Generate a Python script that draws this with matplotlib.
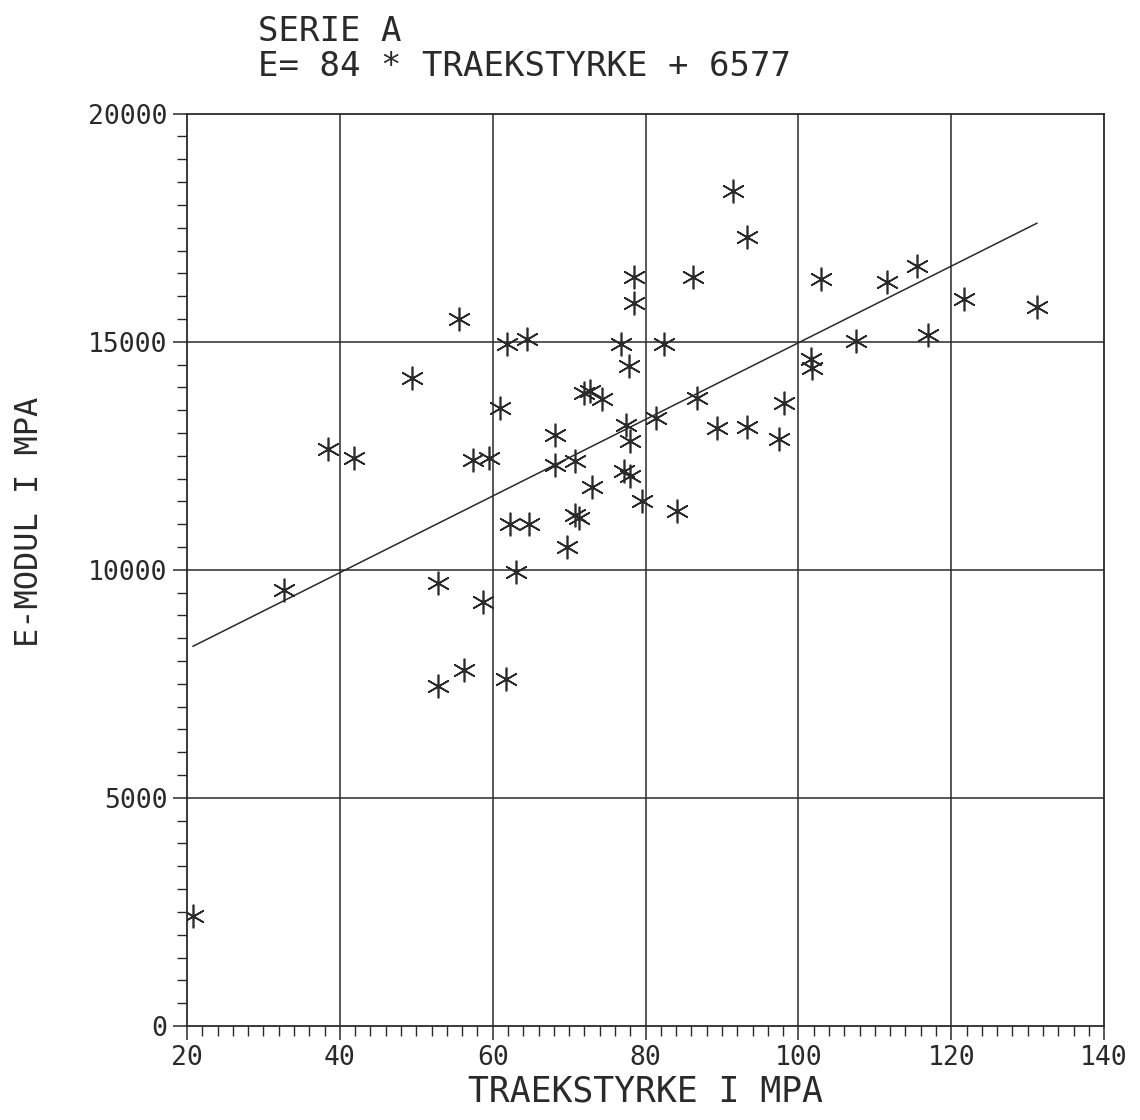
import numpy as np
import matplotlib
matplotlib.use('Agg')
import matplotlib.pyplot as plt
from matplotlib.ticker import MultipleLocator

# traekstyrke (MPa) and E-modul (MPa)
traek = [20.8, 32.7, 38.5, 41.9, 49.5, 52.8, 52.8, 55.6, 56.2, 57.4,
         58.8, 59.5, 61.0, 61.8, 61.9, 62.3, 63.1, 64.5, 64.8, 68.2,
         68.2, 69.7, 70.8, 70.8, 71.3, 71.9, 72.7, 73.0, 74.3, 76.8,
         77.2, 77.4, 77.8, 78.0, 78.0, 78.45, 78.55, 79.6, 81.4, 82.4,
         84.1, 86.2, 86.8, 89.3, 91.5, 93.3, 93.3, 97.4, 98.1, 101.6,
         101.8, 102.9, 107.6, 111.6, 115.5, 116.9, 121.7, 131.2]
emodul = [2400, 9550, 12650, 12450, 14200, 9700, 7450, 15500, 7800, 12400,
          9300, 12450, 13550, 7600, 14950, 11000, 9950, 15050, 11000, 12950,
          12300, 10500, 12380, 11200, 11130, 13870, 13920, 11820, 13740, 14960,
          12170, 13180, 14470, 12820, 12050, 15850, 16420, 11500, 13320, 14950,
          11300, 16420, 13770, 13110, 18310, 17300, 13130, 12860, 13660, 14620,
          14430, 16370, 15020, 16300, 16650, 15140, 15930, 15770]

slope = 84
intercept = 6577

x_ticks = [20, 40, 60, 80, 100, 120, 140]
y_ticks = [0, 5000, 10000, 15000, 20000]

font = ['DejaVu Sans Mono']
ink = '#2a2a2a'

fig = plt.figure(figsize=(11.4, 11.2), dpi=100)
ax = fig.add_axes([0.164, 0.084, 0.8045, 0.8145])

ax.set_xlim(20, 140)
ax.set_ylim(0, 20000)

# grid
for gx in x_ticks[1:-1]:
    ax.axvline(gx, color=ink, lw=1.1, zorder=1)
for gy in y_ticks[1:-1]:
    ax.axhline(gy, color=ink, lw=1.1, zorder=1)

ax.plot(traek, emodul, linestyle='none', marker=(6, 2, 0), markersize=17,
        markeredgewidth=1.2, color=ink, zorder=3)

xl = np.array([min(traek), max(traek)])
ax.plot(xl, slope * xl + intercept, color=ink, lw=1.1, zorder=2)

ax.set_xticks(x_ticks)
ax.set_yticks(y_ticks)
ax.xaxis.set_minor_locator(MultipleLocator(2))
ax.yaxis.set_minor_locator(MultipleLocator(500))
ax.tick_params(which='major', direction='out', length=10, width=1.1, color=ink,
               labelsize=19, labelcolor=ink, pad=4)
ax.tick_params(which='minor', direction='out', length=7, width=1.0, color=ink)
ax.tick_params(top=False, right=False, which='both')
for lab in ax.get_xticklabels() + ax.get_yticklabels():
    lab.set_family(font)

for s in ax.spines.values():
    s.set_linewidth(1.3)
    s.set_color(ink)

ax.set_xlabel('TRAEKSTYRKE I MPA', family=font, fontsize=25, color=ink, labelpad=2)
ax.set_ylabel('E-MODUL I MPA', family=font, fontsize=23, color=ink)
ax.yaxis.set_label_coords(-0.155, 0.553)

fig.text(0.226, 0.9715, 'SERIE A', family=font, fontsize=24.5, color=ink,
         ha='left', va='center')
fig.text(0.226, 0.9405, 'E= 84 * TRAEKSTYRKE + 6577', family=font, fontsize=24.5,
         color=ink, ha='left', va='center')

fig.savefig('out.png', dpi=100, facecolor='white')
